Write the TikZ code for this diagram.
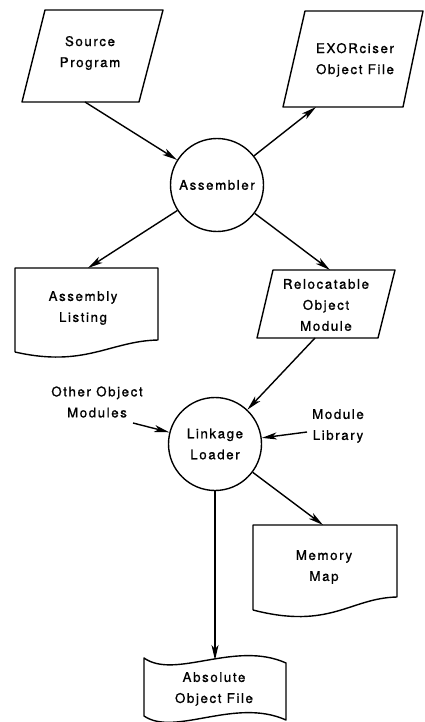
\documentclass[tikz,border=0pt]{standalone}
\usepackage{fontspec}
\newfontfamily\lblfont{TeX Gyre Heros}[LetterSpace=12,FakeBold=1]
\usetikzlibrary{arrows.meta}
\begin{document}
\begin{tikzpicture}[x=1pt,y=1pt,
  outline/.style={line width=1.4pt, line join=round},
  conn/.style={line width=1.4pt, -{Stealth[length=15pt,width=7pt,inset=4pt]}},
  txt/.style={align=center, font=\lblfont\fontsize{13.3}{21}\selectfont, inner sep=0pt},
  circ/.style={circle, draw, line width=1.4pt, minimum size=93pt, inner sep=0pt, align=center, font=\lblfont\fontsize{13.3}{21}\selectfont}]
\useasboundingbox (0,0) rectangle (424,-722);

% Source Program (parallelogram)
\draw[outline] (45,-10) -- (163,-10) -- (139,-102) -- (22,-102) -- cycle;
\node[txt] (src) at (90,-53) {Source\\Program};
\coordinate (srcb) at (85,-102);

% EXORciser Object File (parallelogram)
\draw[outline] (305,-11) -- (423,-11) -- (403,-107) -- (283,-107) -- cycle;
\node[txt] (exo) at (355,-60) {EXORciser\\Object File};
\coordinate (exob) at (316,-107);

% Assembler
\node[circ] (asm) at (217,-185) {Assembler};

% Assembly Listing (document)
\draw[outline] (15,-352) -- (15,-268) -- (158,-268) -- (158,-340)
  .. controls (110,-341) and (85,-368) .. (15,-352);
\node[txt] (lst) at (83,-308) {Assembly\\Listing};
\coordinate (lstt) at (88,-268);

% Relocatable Object Module (parallelogram)
\draw[outline] (273,-270) -- (395,-270) -- (378,-338) -- (257,-338) -- cycle;
\node[txt] (rel) at (326,-305) {Relocatable\\Object\\Module};
\coordinate (relt) at (330,-270);
\coordinate (relb) at (315,-338);

% Linkage Loader
\node[circ] (ll) at (215,-444) {Linkage\\Loader};

% side inputs
\node[txt] (oom) at (97,-402) {Other Object\\Modules};
\coordinate (oomr) at (133,-423);
\node[txt] (mlib) at (338,-426) {Module\\Library};
\coordinate (mlibl) at (307,-432);

% Memory Map (document)
\draw[outline] (253,-610) -- (253,-525) -- (397,-525) -- (397,-597)
  .. controls (350,-598) and (330,-630) .. (253,-610);
\node[txt] (mm) at (324,-567) {Memory\\Map};
\coordinate (mmt) at (323,-525);

% Absolute Object File (punched tape)
\draw[outline] (144,-658) .. controls (175,-680) and (235,-640) .. (286,-663)
  -- (286,-720) .. controls (235,-697) and (175,-737) .. (144,-716) -- cycle;
\node[txt] (abs) at (214,-689) {Absolute\\Object File};
\coordinate (abst) at (215,-660);

% connectors
\draw[conn] (srcb) -- (asm);
\draw[conn] (asm) -- (exob);
\draw[conn] (asm) -- (lstt);
\draw[conn] (asm) -- (relt);
\draw[conn] (relb) -- (ll);
\draw[conn] (oomr) -- (ll);
\draw[conn] (mlibl) -- (ll);
\draw[conn] (ll) -- (mmt);
\draw[conn] (ll.south) -- (abst);
\end{tikzpicture}
\end{document}
